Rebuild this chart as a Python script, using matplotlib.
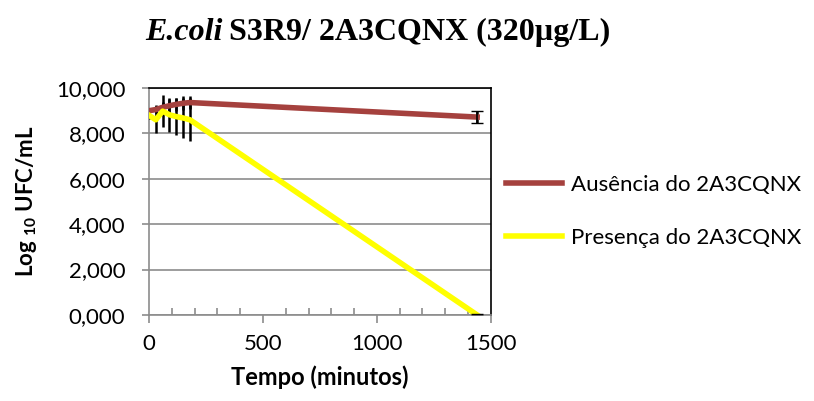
import matplotlib
matplotlib.use("Agg")
import matplotlib.pyplot as plt
from matplotlib.lines import Line2D
from matplotlib.ticker import FuncFormatter, MultipleLocator

# sampling times (min) and log10 UFC/mL
tempo = [0, 30, 60, 90, 120, 150, 180, 1440]
ausencia = [9.0, 9.05, 9.15, 9.22, 9.28, 9.33, 9.36, 8.72]
ausencia_err = [0.1, 0.2, 0.25, 0.3, 0.3, 0.3, 0.3, 0.28]
presenca = [8.8, 8.6, 8.98, 8.82, 8.74, 8.68, 8.6, 0.0]
presenca_err = [0.15, 0.6, 0.7, 0.75, 0.8, 0.9, 0.95, 0.05]

labels = ["Ausência do 2A3CQNX", "Presença do 2A3CQNX"]
colors = ["#A5413E", "#FFFF00"]

plt.rcParams["font.family"] = ["Lato", "DejaVu Sans"]
plt.rcParams["mathtext.fontset"] = "custom"
plt.rcParams["mathtext.rm"] = "Lato:bold"
plt.rcParams["mathtext.bf"] = "Lato:bold"

fig = plt.figure(figsize=(8.14, 4.01), dpi=100)
ax = fig.add_axes([0.183, 0.2145, 0.42, 0.566])

for y, err, c in [(ausencia, ausencia_err, colors[0]),
                  (presenca, presenca_err, colors[1])]:
    ax.errorbar(tempo, y, yerr=err, color=c, lw=4, ecolor="black",
                elinewidth=1.8, capsize=0, zorder=3)
# caps only on the last point
for y, err in [(ausencia, ausencia_err), (presenca, presenca_err)]:
    ax.errorbar(tempo[-1:], y[-1:], yerr=err[-1:], fmt="none", ecolor="black",
                elinewidth=1.2, capsize=4, zorder=4)

ax.set_xlim(0, 1500)
ax.set_ylim(0, 10)
ax.xaxis.set_major_locator(MultipleLocator(500))
ax.xaxis.set_minor_locator(MultipleLocator(100))
ax.yaxis.set_major_locator(MultipleLocator(2))
ax.yaxis.set_major_formatter(FuncFormatter(lambda v, p: f"{v:.3f}".replace(".", ",")))
ax.grid(axis="y", color="#8c8c8c", lw=1.2)
ax.set_axisbelow(True)

for s in ["left", "bottom"]:
    ax.spines[s].set_color("#8c8c8c")
    ax.spines[s].set_linewidth(1.2)
for s in ["top", "right"]:
    ax.spines[s].set_color("black")
    ax.spines[s].set_linewidth(1.2)

ax.tick_params(axis="both", which="major", labelsize=16, color="#8c8c8c", width=1.2)
ax.tick_params(axis="x", which="major", direction="out", length=6, pad=8)
ax.tick_params(axis="x", which="minor", direction="in", length=5, color="#8c8c8c", width=1.2)
ax.tick_params(axis="y", which="major", direction="out", length=5, pad=12)
ax.tick_params(top=False, right=False)

ax.set_xlabel("Tempo (minutos)", fontsize=17, fontweight="bold", labelpad=8)
ax.set_ylabel(r"Log $_{10}$ UFC/mL", fontsize=16, fontweight="bold", labelpad=12)

handles = [Line2D([], [], color=c, lw=4) for c in colors]
ax.legend(handles, labels, loc="center left", bbox_to_anchor=(1.0, 0.456), frameon=False,
          fontsize=16, handlelength=2.5, handletextpad=0.4, labelspacing=1.5,
          borderaxespad=0.3)

fig.canvas.draw()
r = fig.canvas.get_renderer()
t1 = fig.text(0.178, 0.918, "E.coli", family="Liberation Serif", fontsize=23,
              fontweight="bold", style="italic", va="center")
bb = t1.get_window_extent(r).transformed(fig.transFigure.inverted())
fig.text(bb.x1 + 0.008, 0.918, "S3R9/ 2A3CQNX (320µg/L)", family="Liberation Serif",
         fontsize=23, fontweight="bold", va="center")

fig.savefig("out.png", dpi=100)
